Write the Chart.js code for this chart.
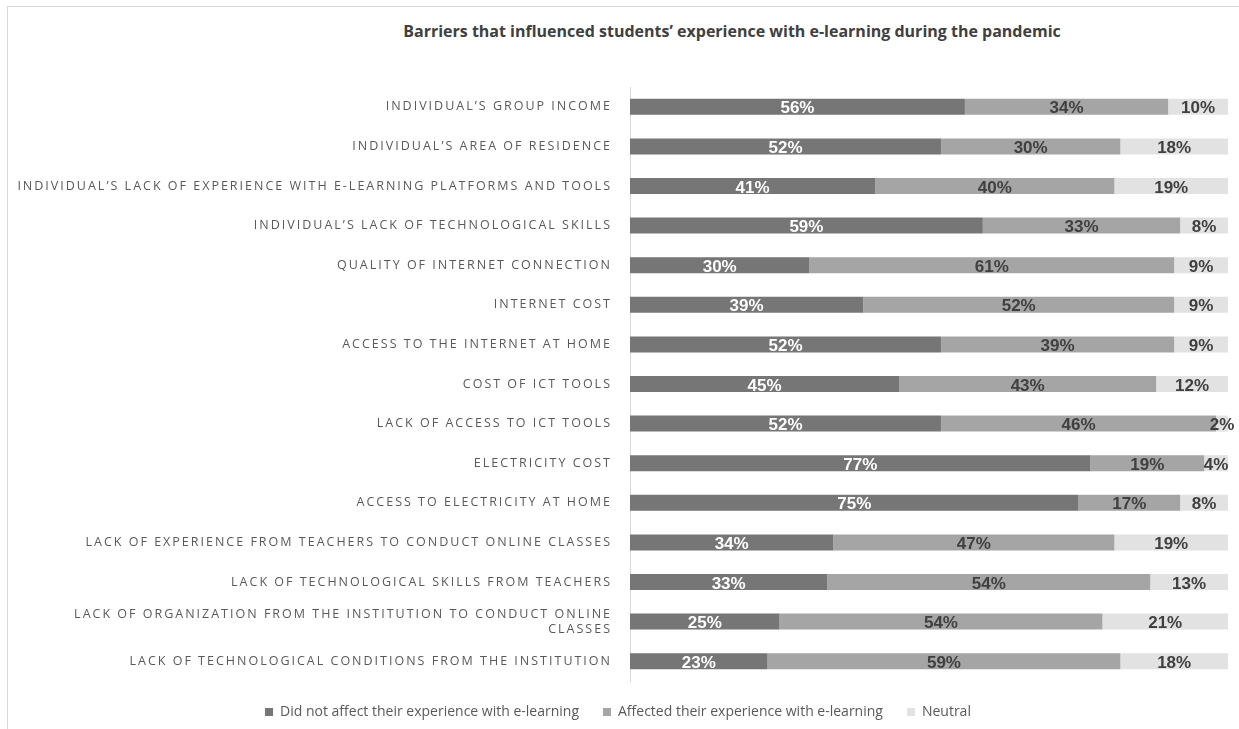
<!DOCTYPE html>
<html>
<head>
<meta charset="utf-8">
<script src="https://cdn.jsdelivr.net/npm/chart.js@4.4.0/dist/chart.umd.min.js"></script>
<style>
    html, body { margin: 0; padding: 0; background: #ffffff; }
    #wrap { position: relative; width: 1239px; height: 729px; }
    #frame { position: absolute; left: 7px; top: 6px; right: 0; bottom: 0; border-top: 1px solid #d9d9d9; border-left: 1px solid #d9d9d9; }
    #title { position: absolute; top: 20px; left: 0; width: 1464px; text-align: center;
        font: bold 16px "Open Sans", sans-serif; color: #404040; white-space: nowrap; }
    canvas { position: absolute; left: 0; top: 0; }
</style>
</head>
<body>
<div id="wrap">
    <div id="frame"></div>
    <div id="title">Barriers that influenced students’ experience with e-learning during the pandemic</div>
    <canvas id="barChart" width="1239" height="729"></canvas>
</div>
<script>
const categories = [
    "INDIVIDUAL’S GROUP INCOME",
    "INDIVIDUAL’S AREA OF RESIDENCE",
    "INDIVIDUAL’S LACK OF EXPERIENCE WITH E-LEARNING PLATFORMS AND TOOLS",
    "INDIVIDUAL’S LACK OF TECHNOLOGICAL SKILLS",
    "QUALITY OF INTERNET CONNECTION",
    "INTERNET COST",
    "ACCESS TO THE INTERNET AT HOME",
    "COST OF ICT TOOLS",
    "LACK OF ACCESS TO ICT TOOLS",
    "ELECTRICITY COST",
    "ACCESS TO ELECTRICITY AT HOME",
    "LACK OF EXPERIENCE FROM TEACHERS TO CONDUCT ONLINE CLASSES",
    "LACK OF TECHNOLOGICAL SKILLS FROM TEACHERS",
    ["LACK OF ORGANIZATION FROM THE INSTITUTION TO CONDUCT ONLINE", "CLASSES"],
    "LACK OF TECHNOLOGICAL CONDITIONS FROM THE INSTITUTION"
];

const didNotAffect = [56, 52, 41, 59, 30, 39, 52, 45, 52, 77, 75, 34, 33, 25, 23];
const affected     = [34, 30, 40, 33, 61, 52, 39, 43, 46, 19, 17, 47, 54, 54, 59];
const neutral      = [10, 18, 19,  8,  9,  9,  9, 12,  2,  4,  8, 19, 13, 21, 18];

const seriesNames = [
    "Did not affect their experience with e-learning",
    "Affected their experience with e-learning",
    "Neutral"
];

document.addEventListener("DOMContentLoaded", function () {
    let ctx = document.getElementById("barChart").getContext("2d");
    const tracking = "2px";

    // percent labels inside each segment, then tracking for the y labels drawn after
    const segmentLabels = {
        id: "segmentLabels",
        afterDatasetsDraw(chart) {
            let c = chart.ctx;
            c.save();
            c.letterSpacing = "0px";
            c.font = "bold 17px 'Liberation Sans', Arial, sans-serif";
            c.textAlign = "center";
            c.textBaseline = "middle";
            chart.data.datasets.forEach((ds, i) => {
                let meta = chart.getDatasetMeta(i);
                meta.data.forEach((bar, j) => {
                    c.fillStyle = i === 0 ? "#ffffff" : "#404040";
                    c.fillText(ds.data[j] + "%", (bar.x + bar.base) / 2, bar.y + 2);
                });
            });
            c.restore();
            c.letterSpacing = tracking;
        },
        afterDraw(chart) {
            chart.ctx.letterSpacing = "0px";
        }
    };

    new Chart(ctx, {
        type: "bar",
        data: {
            labels: categories,
            datasets: [
                { label: seriesNames[0], data: didNotAffect, backgroundColor: "#767676" },
                { label: seriesNames[1], data: affected, backgroundColor: "#a5a5a5" },
                { label: seriesNames[2], data: neutral, backgroundColor: "#e2e2e2" }
            ]
        },
        options: {
            indexAxis: "y",
            responsive: false,
            animation: false,
            datasets: {
                bar: { categoryPercentage: 0.81, barPercentage: 0.5, borderWidth: 0 }
            },
            layout: {
                padding: { top: 87, left: 8, right: 11, bottom: 0 }
            },
            plugins: {
                legend: {
                    position: "bottom",
                    labels: {
                        boxWidth: 8,
                        boxHeight: 8,
                        padding: 24,
                        color: "#595959",
                        font: { family: "'Open Sans', sans-serif", size: 14 }
                    }
                },
                tooltip: { enabled: false }
            },
            scales: {
                x: {
                    stacked: true,
                    min: 0,
                    max: 100,
                    display: false
                },
                y: {
                    stacked: true,
                    grid: { display: false },
                    border: { display: true, color: "#d9d9d9", width: 1 },
                    ticks: {
                        z: 1,
                        padding: 10,
                        color: "#595959",
                        font: { family: "'Open Sans', sans-serif", size: 12.5 }
                    },
                    beforeFit(scale) { scale.ctx.letterSpacing = tracking; },
                    afterFit(scale) {
                        scale.ctx.letterSpacing = "0px";
                        scale.width = 622;
                    }
                }
            }
        },
        plugins: [segmentLabels]
    });
});
</script>
</body>
</html>
